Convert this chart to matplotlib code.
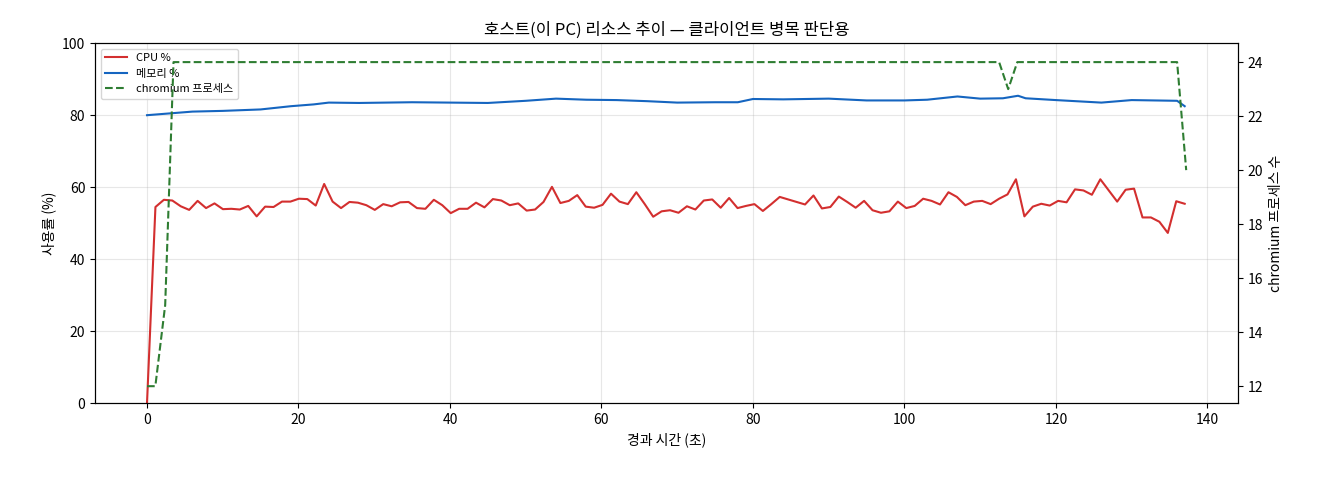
import numpy as np
import matplotlib
matplotlib.use('Agg')
import matplotlib.pyplot as plt

plt.rcParams['font.family'] = ['Noto Sans CJK KR', 'DejaVu Sans']
plt.rcParams['axes.unicode_minus'] = False

# ---- data ----
cpu = [0, 54.5, 56.5, 56.3, 54.7, 53.7, 56.2, 54.2, 55.5, 53.9, 54.0, 53.8, 54.8, 51.9, 54.6,
       54.5, 56.0, 56.0, 56.8, 56.7, 54.9, 60.9, 56.0, 54.2, 55.9, 55.7, 55.0, 53.7, 55.3, 54.7,
       55.8, 55.9, 54.2, 54.0, 56.5, 55.0, 52.8, 54.0, 54.0, 55.7, 54.4, 56.7, 56.3, 55.0, 55.5,
       53.5, 53.8, 55.9, 60.1, 55.6, 56.2, 57.8, 54.6, 54.3, 55.1, 58.2, 56.0, 55.3, 58.6, 55.3,
       51.8, 53.3, 53.6, 52.9, 54.7, 53.8, 56.3, 56.6, 54.3, 57.0, 54.2, 54.8, 55.3, 53.4, 55.3,
       57.3, 56.6, 55.9, 55.2, 57.7, 54.1, 54.5, 57.4, 55.9, 54.3, 56.2, 53.6, 52.9, 53.3, 56.0,
       54.2, 54.8, 56.8, 56.2, 55.2, 58.6, 57.3, 55.0, 56.0, 56.2, 55.3, 56.8, 58.0, 62.2, 51.9,
       54.6, 55.4, 54.9, 56.2, 55.8, 59.4, 59.1, 57.9, 62.2, 59.1, 56.0, 59.3, 59.6, 51.6, 51.6,
       50.4, 47.3, 56.1, 55.4]
t_cpu = np.linspace(0, 137, len(cpu))

t_mem = [0, 3, 6, 10, 15, 19, 22, 24, 28, 35, 40, 45, 50, 54, 58, 62, 66, 70, 75, 78, 80, 84,
         90, 95, 100, 103, 107, 110, 113, 115, 116, 120, 126, 130, 133, 136, 137]
mem = [80.0, 80.5, 81.0, 81.2, 81.6, 82.5, 83.0, 83.5, 83.4, 83.6, 83.5, 83.4, 84.0, 84.6, 84.3,
       84.2, 83.9, 83.5, 83.6, 83.6, 84.5, 84.4, 84.6, 84.1, 84.1, 84.3, 85.2, 84.6, 84.7, 85.4,
       84.7, 84.2, 83.5, 84.2, 84.1, 84.0, 82.5]

t_proc = [0, 1.1, 2.4, 3.5, 112.5, 113.7, 114.9, 136.0, 137.2]
proc = [12, 12, 15, 24, 24, 23, 24, 24, 20]

fig, ax = plt.subplots(figsize=(13.2, 4.8), dpi=100)
fig.subplots_adjust(left=0.072, right=0.938, top=0.91, bottom=0.16)

l1, = ax.plot(t_cpu, cpu, color='#d32f2f', lw=1.5, label='CPU %')
l2, = ax.plot(t_mem, mem, color='#1565c0', lw=1.5, label='메모리 %')
ax.set_ylim(0, 100)
ax.set_xlabel('경과 시간 (초)')
ax.set_ylabel('사용률 (%)')
ax.grid(alpha=0.3)
ax.set_title('호스트(이 PC) 리소스 추이 — 클라이언트 병목 판단용', fontsize=12)

ax2 = ax.twinx()
l3, = ax2.plot(t_proc, proc, color='#2e7d32', lw=1.5, ls='--', label='chromium 프로세스')
ax2.set_ylim(11.37, 24.7)
ax2.set_ylabel('chromium 프로세스 수')

ax.legend(handles=[l1, l2, l3], loc='upper left', fontsize=8)

plt.savefig('out.png', dpi=100)
